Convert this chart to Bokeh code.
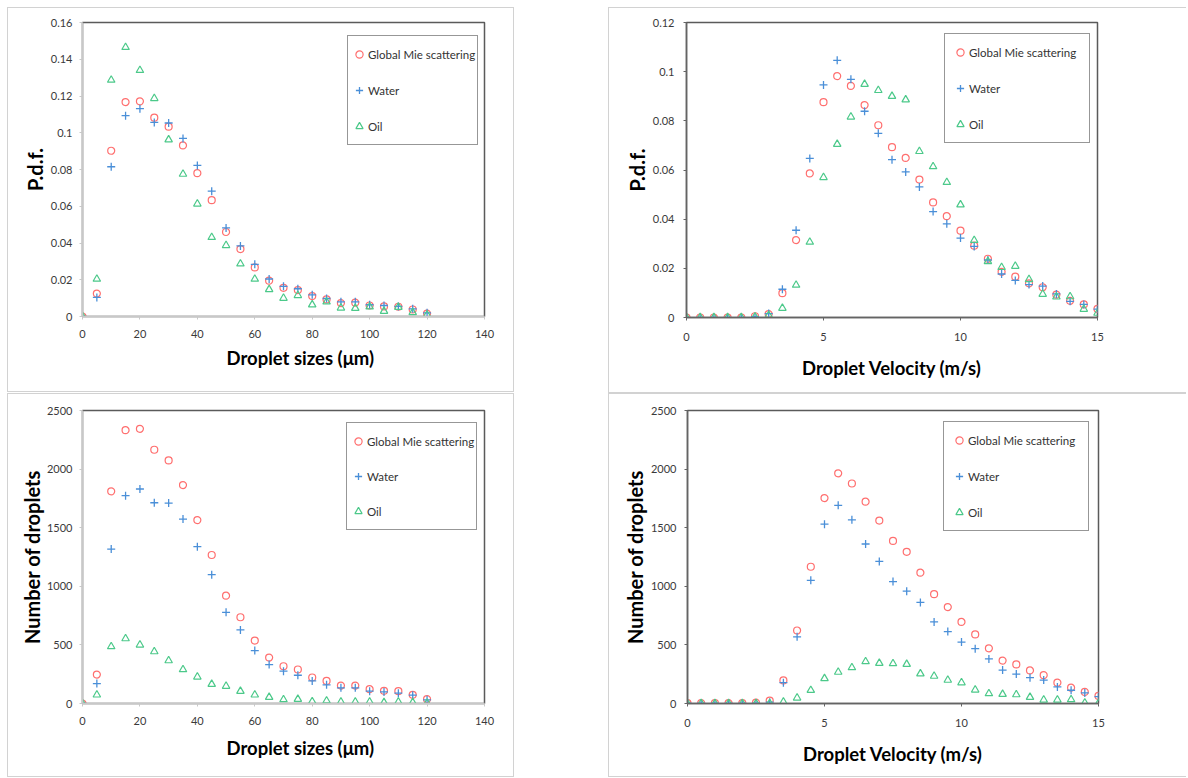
from bokeh.plotting import figure
from bokeh.layouts import row, column
from bokeh.models import Range1d, FixedTicker, Legend, LegendItem, Title, Spacer
from bokeh.embed import file_html
from bokeh.resources import INLINE

# ---------------- data ----------------
sizes = [0, 5, 10, 15, 20, 25, 30, 35, 40, 45, 50, 55, 60, 65, 70, 75, 80,
         85, 90, 95, 100, 105, 110, 115, 120]
velocity = [0, 0.5, 1, 1.5, 2, 2.5, 3, 3.5, 4, 4.5, 5, 5.5, 6, 6.5, 7, 7.5,
            8, 8.5, 9, 9.5, 10, 10.5, 11, 11.5, 12, 12.5, 13, 13.5, 14, 14.5, 15]

pdf_size_mie = [0, 0.0125, 0.0902, 0.1167, 0.1171, 0.1082, 0.1033, 0.0931, 0.078,
                0.0633, 0.046, 0.0367, 0.0267, 0.0195, 0.0156, 0.0144, 0.0111,
                0.0093, 0.0073, 0.0075, 0.006, 0.0055, 0.0053, 0.0038, 0.0016]
pdf_size_water = [0, 0.0104, 0.0815, 0.1093, 0.1131, 0.1056, 0.1053, 0.0969, 0.0822,
                  0.0682, 0.0482, 0.0384, 0.0284, 0.0204, 0.0164, 0.0151, 0.0118,
                  0.0098, 0.008, 0.008, 0.0064, 0.006, 0.0055, 0.0042, 0.002]
pdf_size_oil = [0, 0.0204, 0.1287, 0.1465, 0.134, 0.1187, 0.0962, 0.0775, 0.0613,
                0.0431, 0.0387, 0.0287, 0.0204, 0.0147, 0.01, 0.0115, 0.0064,
                0.008, 0.0047, 0.0045, 0.0053, 0.0029, 0.0051, 0.0022, 0.0009]

pdf_vel_mie = [0, 0, 0, 0, 0, 0.0005, 0.0014, 0.0099, 0.0315, 0.0586, 0.0876, 0.0982,
               0.0942, 0.0864, 0.0782, 0.0693, 0.0649, 0.0561, 0.0468, 0.0412, 0.0353,
               0.0292, 0.0239, 0.0186, 0.0166, 0.0139, 0.0123, 0.0093, 0.0068, 0.0053,
               0.0035]
pdf_vel_water = [0, 0, 0, 0, 0, 0.0003, 0.0016, 0.0115, 0.0355, 0.0647, 0.0946, 0.1046,
                 0.0969, 0.0839, 0.0749, 0.0642, 0.0592, 0.0531, 0.0431, 0.0381, 0.0323,
                 0.0289, 0.0234, 0.0177, 0.0151, 0.0134, 0.0128, 0.0096, 0.0066, 0.0053,
                 0.0034]
pdf_vel_oil = [0, 0, 0, 0, 0, 0.0003, 0.0009, 0.0038, 0.0132, 0.0307, 0.057, 0.0705,
               0.0816, 0.0949, 0.0924, 0.09, 0.0886, 0.0676, 0.0614, 0.055, 0.0459,
               0.0314, 0.0228, 0.0204, 0.0209, 0.0155, 0.0095, 0.0084, 0.0085, 0.0034,
               0.0018]

num_size_mie = [0, 247, 1810, 2332, 2344, 2165, 2074, 1864, 1565, 1267, 920, 736, 537,
                392, 318, 290, 222, 193, 153, 153, 122, 108, 105, 74, 37]
num_size_water = [0, 170, 1318, 1773, 1830, 1713, 1710, 1574, 1338, 1099, 778, 628, 452,
                  332, 276, 241, 193, 159, 134, 134, 105, 99, 88, 71, 31]
num_size_oil = [0, 74, 486, 554, 500, 443, 366, 290, 227, 165, 148, 105, 74, 54, 34, 37,
                17, 23, 14, 14, 14, 9, 14, 9, 3]

num_vel_mie = [3, 3, 3, 3, 3, 8, 25, 197, 623, 1167, 1753, 1964, 1877, 1722, 1561, 1387,
               1294, 1116, 933, 823, 696, 589, 471, 366, 333, 282, 242, 178, 135, 99, 65]
num_vel_water = [2, 2, 2, 2, 2, 4, 11, 178, 569, 1051, 1530, 1691, 1567, 1361, 1212, 1040,
                 958, 862, 696, 614, 524, 468, 380, 285, 251, 220, 200, 141, 113, 90, 59]
num_vel_oil = [0, 0, 0, 0, 0, 0, 2, 14, 48, 113, 214, 268, 307, 358, 344, 341, 335, 254,
               234, 200, 178, 116, 85, 79, 76, 54, 31, 31, 34, 6, 3]

series_names = ["Global Mie scattering", "Water", "Oil"]
size_ticks = [0, 20, 40, 60, 80, 100, 120, 140]
vel_ticks = [0, 5, 10, 15]
pdf_size_ticks = [0, 0.02, 0.04, 0.06, 0.08, 0.1, 0.12, 0.14, 0.16]
pdf_size_labels = ["0", "0.02", "0.04", "0.06", "0.08", "0.1", "0.12", "0.14", "0.16"]
pdf_vel_ticks = [0, 0.02, 0.04, 0.06, 0.08, 0.1, 0.12]
pdf_vel_labels = ["0", "0.02", "0.04", "0.06", "0.08", "0.1", "0.12"]
num_ticks = [0, 500, 1000, 1500, 2000, 2500]

# ---------------- style ----------------
FONT = "Lato"
RED = "#ff6f6f"
BLUE = "#4a8fd8"
GREEN = "#4cc98a"
TICK_COLOR = "#3a3a3a"
PANEL = "#d2d2d2"
FULL_BOX = "inset 0 0 0 1px " + PANEL
OPEN_RIGHT = "inset 1px 1px 0 " + PANEL + ", inset 0 -1px 0 " + PANEL


def build(width, height, bl, bt, fw, fh, x, ys, xr, yr, xticks, yticks, ylabels,
          ylabel, xlabel, light, leg, shadow, ylab_standoff, ytick_standoff,
          xtick_standoff, xlab_standoff, xtitle_offset=None):
    p = figure(width=width, height=height,
               min_border_left=bl, min_border_top=bt,
               min_border_right=width - bl - fw, min_border_bottom=height - bt - fh,
               x_range=Range1d(*xr), y_range=Range1d(*yr),
               output_backend="svg", toolbar_location=None)
    p.styles = {"box-shadow": shadow}
    p.xgrid.visible = False
    p.ygrid.visible = False
    p.background_fill_color = "white"
    p.border_fill_alpha = 0
    p.outline_line_color = "#5a5a5a"
    p.outline_line_width = 1.5

    axis_col = "#c8c8c8" if light else "#646464"
    for ax in (p.xaxis[0], p.yaxis[0]):
        ax.axis_line_color = axis_col
        ax.axis_line_width = 1.5
        ax.major_tick_line_color = axis_col
        ax.major_tick_out = 3
        ax.major_tick_in = 0
        ax.minor_tick_out = 0
        ax.minor_tick_in = 0
        ax.major_label_text_font = FONT
        ax.major_label_text_font_size = "11px"
        ax.major_label_text_color = TICK_COLOR
        ax.axis_label_text_font = FONT
        ax.axis_label_text_font_style = "bold"
        ax.axis_label_text_color = "black"
    p.xaxis.ticker = FixedTicker(ticks=xticks)
    p.yaxis.ticker = FixedTicker(ticks=yticks)
    if ylabels is not None:
        p.yaxis.major_label_overrides = {t: s for t, s in zip(yticks, ylabels)}
    p.xaxis.major_label_standoff = xtick_standoff
    p.yaxis.major_label_standoff = ytick_standoff
    p.yaxis.axis_label = ylabel
    p.yaxis.axis_label_text_font_size = "20px"
    p.yaxis.axis_label_standoff = ylab_standoff
    if xtitle_offset is None:
        p.xaxis.axis_label = xlabel
        p.xaxis.axis_label_text_font_size = "18.5px"
        p.xaxis.axis_label_standoff = xlab_standoff
    else:
        p.add_layout(Title(text=xlabel, align="left", offset=xtitle_offset,
                           text_font=FONT, text_font_size="18.5px",
                           text_font_style="bold", text_color="black",
                           standoff=xlab_standoff), "below")

    r1 = p.scatter(x, ys[0], marker="circle", size=7, fill_color=None,
                   line_color=RED, line_width=1.2)
    r2 = p.scatter(x, ys[1], marker="cross", size=8, line_color=BLUE, line_width=1.3)
    r3 = p.scatter(x, ys[2], marker="triangle", size=7.5, fill_color=None,
                   line_color=GREEN, line_width=1.2)

    lx, ly, pad, lh, sp, lw = leg
    legend = Legend(items=[LegendItem(label=series_names[0], renderers=[r1]),
                           LegendItem(label=series_names[1], renderers=[r2]),
                           LegendItem(label=series_names[2], renderers=[r3])],
                    location=(lx, ly), padding=pad, spacing=sp, margin=0,
                    glyph_width=18, glyph_height=18, label_height=lh,
                    label_width=lw, label_standoff=0,
                    border_line_color="#303030", border_line_width=1.5,
                    background_fill_color="white", background_fill_alpha=1,
                    label_text_font=FONT, label_text_font_size="11.5px",
                    label_text_color="#333333")
    p.add_layout(legend)
    return p


p_tl = build(507, 385, 75, 15, 402, 294, sizes,
             [pdf_size_mie, pdf_size_water, pdf_size_oil], (0, 140), (0, 0.16),
             size_ticks, pdf_size_ticks, pdf_size_labels,
             "P.d.f.", "Droplet sizes (μm)", True,
             (265, 171, 2, 32, 4, 100), FULL_BOX, 1, 7, 10, 9,
             xtitle_offset=144)
p_tr = build(578, 386, 78, 15, 411, 296, velocity,
             [pdf_vel_mie, pdf_vel_water, pdf_vel_oil], (0, 15), (0, 0.12),
             vel_ticks, pdf_vel_ticks, pdf_vel_labels,
             "P.d.f.", "Droplet Velocity (m/s)", False,
             (258, 174, 6, 24, 12, 114), OPEN_RIGHT, 1, 9, 12, 13)
p_bl = build(507, 384, 75, 17, 402, 293, sizes,
             [num_size_mie, num_size_water, num_size_oil], (0, 140), (0, 2500),
             size_ticks, num_ticks, None,
             "Number of droplets", "Droplet sizes (μm)", True,
             (264, 173, 2, 32, 3, 100), FULL_BOX, 0, 7, 10, 15,
             xtitle_offset=144)
p_br = build(578, 384, 79, 17, 411, 296, velocity,
             [num_vel_mie, num_vel_water, num_vel_oil], (0, 15), (0, 2500),
             vel_ticks, num_ticks, None,
             "Number of droplets", "Droplet Velocity (m/s)", False,
             (256, 172, 6, 24, 12, 114), OPEN_RIGHT, 1, 8, 12, 13)

layout = column(Spacer(width=10, height=7),
                row(Spacer(width=7, height=10), p_tl, Spacer(width=94, height=10), p_tr),
                row(Spacer(width=7, height=10), p_bl, Spacer(width=94, height=10), p_br))

open("out.html", "w").write(file_html(layout, INLINE))
